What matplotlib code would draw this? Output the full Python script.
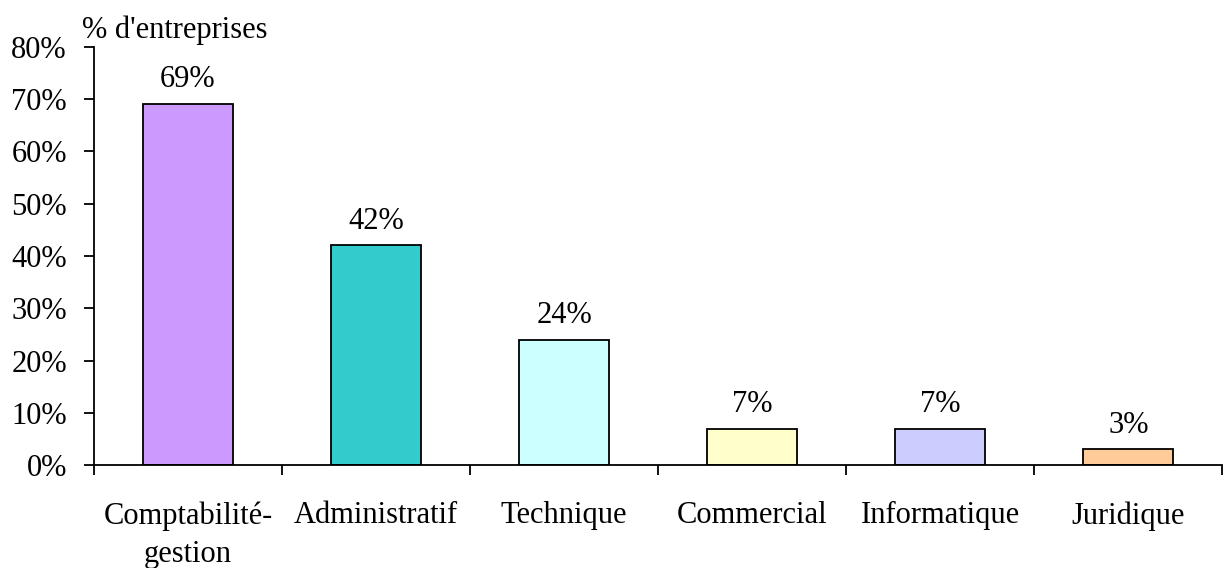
import numpy as np
import matplotlib
matplotlib.use("Agg")
from matplotlib import pyplot as plt
from matplotlib.ticker import FixedLocator, FuncFormatter

# data
categories = ["Comptabilité-\ngestion", "Administratif", "Technique",
              "Commercial", "Informatique", "Juridique"]
values = [69, 42, 24, 7, 7, 3]
colors = ["#CC99FF", "#33CCCC", "#CCFFFF", "#FFFFCC", "#CCCCFF", "#FFCC99"]
yticks = [0, 10, 20, 30, 40, 50, 60, 70, 80]

plt.rcParams["font.family"] = ["Liberation Serif", "DejaVu Serif"]
plt.rcParams["font.size"] = 22

fig = plt.figure(figsize=(12.26, 5.68), dpi=100)
ax = fig.add_axes([0.0767, 0.181, 0.9203, 0.737])

x = np.arange(len(categories))
bars = ax.bar(x, values, width=0.48, color=colors, edgecolor="black", linewidth=1.3)

# value labels above the bars
for xi, v in zip(x, values):
    ax.annotate("%d%%" % v, (xi, v), xytext=(0, 12), textcoords="offset points",
                ha="center", va="baseline", fontsize=22)

ax.set_xlim(-0.5, len(categories) - 0.5)
ax.set_ylim(0, 80)
ax.set_yticks(yticks)
ax.yaxis.set_major_formatter(FuncFormatter(lambda v, p: "%d%%" % v))

# category labels centred, ticks on boundaries
ax.xaxis.set_major_locator(FixedLocator(x))
ax.set_xticklabels(categories, linespacing=1.4)
ax.xaxis.set_minor_locator(FixedLocator(np.arange(len(categories) + 1) - 0.5))
ax.tick_params(axis="x", which="major", length=0, pad=26)
ax.tick_params(axis="x", which="minor", length=7.5, width=1.3, direction="out")
ax.tick_params(axis="y", length=7.5, width=1.3, direction="out", pad=12)

for s in ["top", "right"]:
    ax.spines[s].set_visible(False)
for s in ["left", "bottom"]:
    ax.spines[s].set_linewidth(1.3)

fig.text(0.067, 0.933, "% d'entreprises", fontsize=22, ha="left", va="baseline")

fig.savefig("out.png", dpi=100)
